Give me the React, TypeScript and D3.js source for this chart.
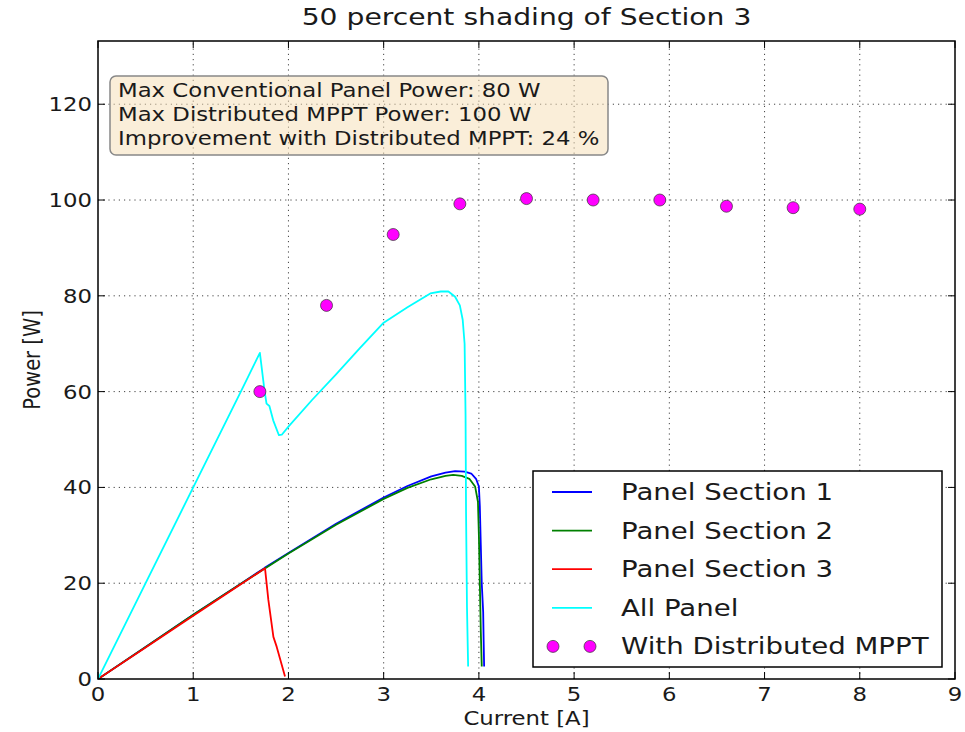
import React from "react";
import * as d3 from "d3";

const width = 965;
const height = 732;
const margin = { top: 41, right: 10, bottom: 53, left: 98 };

const xTicks = [0, 1, 2, 3, 4, 5, 6, 7, 8, 9];
const yTicks = [0, 20, 40, 60, 80, 100, 120];

// [current A, power W]
const section1: [number, number][] = [
  [0, 0], [0.5, 6.7], [1, 13.4], [1.5, 19.9], [1.75, 23.2], [2, 26.3], [2.5, 32.4],
  [3, 37.9], [3.25, 40.3], [3.5, 42.3], [3.65, 43.1], [3.75, 43.4], [3.85, 43.3],
  [3.92, 42.9], [3.97, 41.8], [4.0, 40.2], [4.01, 36], [4.02, 28], [4.03, 20],
  [4.045, 14], [4.05, 8], [4.055, 2.6],
];
const section2: [number, number][] = [
  [0, 0], [0.5, 6.7], [1, 13.4], [1.5, 19.9], [2, 26.2], [2.5, 32.2], [3, 37.6],
  [3.25, 39.9], [3.5, 41.7], [3.65, 42.4], [3.73, 42.6], [3.82, 42.4], [3.9, 41.8],
  [3.96, 40.2], [3.99, 37], [4.0, 30], [4.01, 20], [4.02, 10], [4.03, 2.6],
];
const section3: [number, number][] = [
  [0, 0], [0.5, 6.6], [1, 13.2], [1.5, 19.8], [1.754, 23.1], [1.789, 16.5],
  [1.842, 8.8], [1.877, 6.7], [1.964, 0.5],
];
const allPanel: [number, number][] = [
  [0, 0], [0.5, 20], [1, 40], [1.5, 60], [1.7, 68.1], [1.75, 60], [1.77, 57.5],
  [1.8, 57], [1.84, 54], [1.9, 50.9], [1.93, 51], [2.0, 52.7], [2.25, 58.3],
  [2.5, 63.6], [2.75, 69.1], [3.0, 74.4], [3.25, 77.6], [3.49, 80.5], [3.6, 80.9],
  [3.68, 80.9], [3.75, 79.8], [3.8, 78], [3.83, 75], [3.85, 70], [3.86, 55],
  [3.865, 35], [3.875, 15], [3.887, 2.6],
];
const mpptCurrent = [1.7, 2.4, 3.1, 3.8, 4.5, 5.2, 5.9, 6.6, 7.3, 8.0];
const mpptPower = [60, 78, 92.8, 99.2, 100.3, 100, 100, 98.7, 98.4, 98.1];

const series = [
  { name: "Panel Section 1", data: section1, color: "#0000ff" },
  { name: "Panel Section 2", data: section2, color: "#008000" },
  { name: "Panel Section 3", data: section3, color: "#ff0000" },
  { name: "All Panel", data: allPanel, color: "#00ffff" },
];

const infoLines = [
  "Max Conventional Panel Power: 80 W",
  "Max Distributed MPPT Power: 100 W",
  "Improvement with Distributed MPPT: 24 %",
];

const font = "'DejaVu Sans', sans-serif";
const stretch = 1.2; // the picture is wider than it is tall, text too

function T({ x, y, size, anchor = "start", children }: any) {
  return (
    <text transform={`translate(${x},${y}) scale(${stretch},1)`} fontSize={size} textAnchor={anchor} fill="#1a1a1a">
      {children}
    </text>
  );
}

export default function App() {
  const x = d3.scaleLinear().domain([0, 9]).range([margin.left, width - margin.right]);
  const y = d3.scaleLinear().domain([0, 133.2]).range([height - margin.bottom, margin.top]);
  const [x0, x1] = x.range();
  const [y0, y1] = y.range();
  const line = d3.line<[number, number]>().x((d) => x(d[0])).y((d) => y(d[1]));
  const tick = 7;

  const legX = 533, legY = 471, legW = 409, legH = 196, rowH = 38.6;

  return (
    <svg width={width} height={height} style={{ position: "absolute", left: 0, top: 0 }} fontFamily={font}>
      <rect width={width} height={height} fill="white" />
      <T x={(x0 + x1) / 2} y={25} size={23.5} anchor="middle">50 percent shading of Section 3</T>

      {/* grid */}
      <g stroke="#444" strokeWidth={1} strokeDasharray="1.2,4">
        {xTicks.slice(1, -1).map((t) => (
          <line key={"gx" + t} x1={x(t)} x2={x(t)} y1={y0} y2={y1} />
        ))}
        {yTicks.slice(1).map((t) => (
          <line key={"gy" + t} x1={x0} x2={x1} y1={y(t)} y2={y(t)} />
        ))}
      </g>

      {/* info box */}
      <rect x={110} y={76} width={498} height={79} rx={6} fill="#f5deb3" fillOpacity={0.5} stroke="#888" strokeWidth={1.5} />
      {infoLines.map((s, i) => (
        <T key={s} x={118} y={97 + i * 24} size={19}>{s}</T>
      ))}

      <g clipPath="url(#clip)">
        {series.map((s) => (
          <path key={s.name} d={line(s.data) ?? ""} fill="none" stroke={s.color} strokeWidth={1.8} strokeLinejoin="round" />
        ))}
        {mpptCurrent.map((c, i) => (
          <circle key={i} cx={x(c)} cy={y(mpptPower[i])} r={6} fill="#ff00ff" stroke="#333" strokeWidth={0.7} />
        ))}
      </g>
      <defs>
        <clipPath id="clip">
          <rect x={x0} y={y1} width={x1 - x0} height={y0 - y1} />
        </clipPath>
      </defs>

      {/* ticks */}
      <g stroke="#000" strokeWidth={1}>
        {xTicks.map((t) => (
          <g key={"tx" + t}>
            <line x1={x(t)} x2={x(t)} y1={y0} y2={y0 - tick} />
            <line x1={x(t)} x2={x(t)} y1={y1} y2={y1 + tick} />
          </g>
        ))}
        {yTicks.map((t) => (
          <g key={"ty" + t}>
            <line x1={x0} x2={x0 + tick} y1={y(t)} y2={y(t)} />
            <line x1={x1} x2={x1 - tick} y1={y(t)} y2={y(t)} />
          </g>
        ))}
      </g>
      <rect x={x0} y={y1} width={x1 - x0} height={y0 - y1} fill="none" stroke="#000" strokeWidth={1.5} />

      {xTicks.map((t) => (
        <T key={"lx" + t} x={x(t)} y={y0 + 22} size={19} anchor="middle">{t}</T>
      ))}
      {yTicks.map((t) => (
        <T key={"ly" + t} x={x0 - 6} y={y(t) + 7} size={19} anchor="end">{t}</T>
      ))}
      <T x={(x0 + x1) / 2} y={725} size={19} anchor="middle">Current [A]</T>
      <text transform={`translate(40, ${(y0 + y1) / 2}) rotate(-90) scale(1,${stretch})`} fontSize={19.5} textAnchor="middle" fill="#1a1a1a">Power [W]</text>

      {/* legend */}
      <rect x={legX} y={legY} width={legW} height={legH} fill="white" stroke="#000" strokeWidth={1.5} />
      {series.map((s, i) => (
        <g key={"lg" + s.name}>
          <line x1={552} x2={592} y1={legY + 21 + i * rowH} y2={legY + 21 + i * rowH} stroke={s.color} strokeWidth={1.8} />
          <T x={621} y={legY + 29 + i * rowH} size={23}>{s.name}</T>
        </g>
      ))}
      <circle cx={553} cy={legY + 21 + 4 * rowH} r={6} fill="#ff00ff" stroke="#333" strokeWidth={0.7} />
      <circle cx={590} cy={legY + 21 + 4 * rowH} r={6} fill="#ff00ff" stroke="#333" strokeWidth={0.7} />
      <T x={621} y={legY + 29 + 4 * rowH} size={23}>With Distributed MPPT</T>
    </svg>
  );
}
